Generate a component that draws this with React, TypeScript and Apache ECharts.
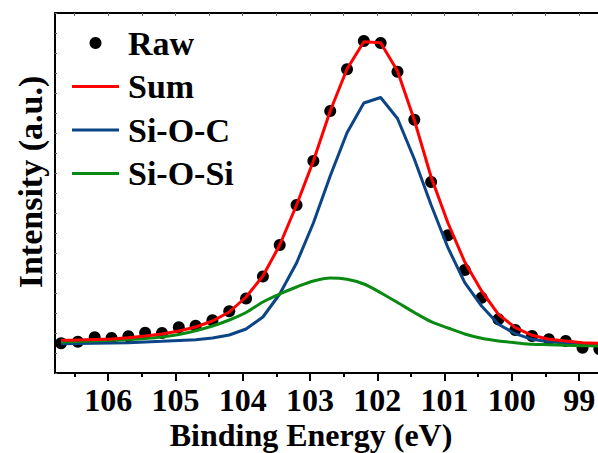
import React, { useEffect, useRef } from "react";
import * as echarts from "echarts";

const energy = [106.7, 106.45, 106.2, 105.95, 105.7, 105.45, 105.2, 104.95, 104.7, 104.45, 104.2, 103.95, 103.7, 103.45, 103.2, 102.95, 102.7, 102.45, 102.2, 101.95, 101.7, 101.45, 101.2, 100.95, 100.7, 100.45, 100.2, 99.95, 99.7, 99.45, 99.2, 98.95, 98.7];
const raw = [29.7, 31.3, 35.7, 35, 36.7, 40.3, 40, 45.7, 47.3, 52.7, 61.7, 74.5, 96.5, 128, 168, 212, 262, 303.7, 332, 330, 301.3, 253.3, 191, 137.7, 103, 75.3, 53.7, 43, 37, 33.7, 32, 25.3, 24];
const sum = [32.7, 33, 33.5, 34, 35.3, 37, 39, 42, 46, 52, 61, 76, 97, 128, 168, 212, 262, 304, 331.3, 330.3, 302, 253, 196, 150, 111, 82, 58.7, 45.3, 37.7, 33.7, 32, 30.3, 29.7];
const siOC = [29.3, 29.5, 29.7, 30, 30.3, 31, 31.7, 32.5, 33.3, 35, 38, 44, 56, 79, 110, 150, 197, 240.3, 270, 275.5, 254.5, 214, 168, 125.3, 90.3, 67, 48.7, 39.3, 33.7, 31.3, 30, 29.3, 29];
const siOSi = [31, 31.5, 32.2, 32.7, 33.5, 34.5, 36, 38.5, 42.3, 47, 53, 60.5, 71, 79, 86, 92, 95, 93.7, 89, 80.3, 70.5, 60.5, 51.3, 45, 39, 34.7, 32, 30.3, 28.7, 28.3, 27.7, 27.3, 27];

const majorTicks = [99, 100, 101, 102, 103, 104, 105, 106];
const halfTicks = [98.5, 99.5, 100.5, 101.5, 102.5, 103.5, 104.5, 105.5, 106.5];
const topTicks = [99, 99.5, 100, 100.5, 101, 101.5, 102, 102.5, 103, 103.5, 104, 104.5, 105, 105.5, 106, 106.5];

const xMin = 98.72;
const xMax = 106.79;

const FONT = '"Liberation Serif", "Times New Roman", serif';
const RED = "#ff0000";
const BLUE = "#0b4586";
const GREEN = "#0a8a12";
const LINE_ICON = "path://M0,0H47V3H0Z";

const pairs = (ys: number[]) => energy.map((e, i) => [e, ys[i]]);

export default function App() {
  const ref = useRef<HTMLDivElement>(null);
  useEffect(() => {
    if (!ref.current) return;
    const chart = echarts.init(ref.current, null, { renderer: "svg" });
    const baseX = {
      type: "value",
      inverse: true,
      min: xMin,
      max: xMax,
      splitLine: { show: false },
    };
    const gridBase = { left: 55, right: 0, top: 13, bottom: 80, containLabel: false, outerBoundsMode: "none" };
    chart.setOption({
      animation: false,
      grid: [{ ...gridBase }, { ...gridBase }],
      xAxis: [
        {
          ...baseX,
          gridIndex: 0,
          position: "bottom",
          axisLine: { onZero: false, lineStyle: { color: "#000", width: 2 } },
          axisTick: { customValues: majorTicks, length: 8, lineStyle: { color: "#000", width: 2 } },
          axisLabel: {
            customValues: majorTicks,
            margin: 13,
            fontSize: 32,
            lineHeight: 28,
            fontWeight: "bold",
            fontFamily: FONT,
            color: "#000",
          },
        },
        {
          ...baseX,
          gridIndex: 0,
          position: "top",
          axisLine: { onZero: false, lineStyle: { color: "#000", width: 2 } },
          axisTick: { inside: true, customValues: topTicks, length: 3, lineStyle: { color: "#666", width: 1 } },
          axisLabel: { show: false },
        },
        {
          ...baseX,
          gridIndex: 1,
          position: "bottom",
          axisLine: { show: false, onZero: false },
          axisTick: { customValues: halfTicks, length: 4, lineStyle: { color: "#000", width: 2 } },
          axisLabel: { show: false },
        },
      ],
      yAxis: [
        {
          type: "value",
          gridIndex: 0,
          min: 0,
          max: 360,
          interval: 20,
          axisLine: { show: true, onZero: false, lineStyle: { color: "#000", width: 2 } },
          axisTick: { show: true, inside: true, length: 2, lineStyle: { color: "#666", width: 1 } },
          axisLabel: { show: false },
          splitLine: { show: false },
        },
        { type: "value", gridIndex: 1, min: 0, max: 360, show: false },
      ],
      legend: {
        orient: "vertical",
        left: 72,
        top: 26,
        padding: 0,
        itemWidth: 47,
        itemHeight: 12,
        itemGap: 9.5,
        textStyle: {
          fontSize: 34,
          fontWeight: "bold",
          fontFamily: FONT,
          color: "#000",
          lineHeight: 34,
          padding: [0, 0, 0, 4],
        },
        data: [
          { name: "Raw", icon: "circle" },
          { name: "Sum", icon: LINE_ICON },
          { name: "Si-O-C", icon: LINE_ICON },
          { name: "Si-O-Si", icon: LINE_ICON },
        ],
      },
      graphic: [
        {
          type: "text",
          x: 311,
          y: 435,
          style: {
            text: "Binding Energy (eV)",
            fill: "#000",
            fontSize: 32,
            lineHeight: 26,
            fontWeight: "bold",
            fontFamily: FONT,
            align: "center",
            verticalAlign: "middle",
          },
        },
        {
          type: "text",
          x: 30,
          y: 182,
          rotation: Math.PI / 2,
          style: {
            text: "Intensity (a.u.)",
            fill: "#000",
            fontSize: 34,
            fontWeight: "bold",
            fontFamily: FONT,
            align: "center",
            verticalAlign: "middle",
          },
        },
      ],
      series: [
        {
          name: "Raw",
          type: "scatter",
          xAxisIndex: 0,
          yAxisIndex: 0,
          data: pairs(raw),
          symbol: "circle",
          symbolSize: 12,
          itemStyle: { color: "#000", opacity: 1 },
          clip: false,
          z: 1,
        },
        {
          name: "Si-O-C",
          type: "line",
          xAxisIndex: 0,
          yAxisIndex: 0,
          data: pairs(siOC),
          symbol: "none",
          lineStyle: { color: BLUE, width: 3 },
          itemStyle: { color: BLUE },
          clip: false,
          z: 2,
        },
        {
          name: "Si-O-Si",
          type: "line",
          xAxisIndex: 0,
          yAxisIndex: 0,
          data: pairs(siOSi),
          symbol: "none",
          smooth: 0.3,
          lineStyle: { color: GREEN, width: 3 },
          itemStyle: { color: GREEN },
          clip: false,
          z: 3,
        },
        {
          name: "Sum",
          type: "line",
          xAxisIndex: 0,
          yAxisIndex: 0,
          data: pairs(sum),
          symbol: "none",
          lineStyle: { color: RED, width: 3 },
          itemStyle: { color: RED },
          clip: false,
          z: 4,
        },
      ],
    });
    return () => chart.dispose();
  }, []);
  return (
    <div
      ref={ref}
      style={{ position: "fixed", left: 0, top: 0, width: 598, height: 453, background: "#fff" }}
    />
  );
}
